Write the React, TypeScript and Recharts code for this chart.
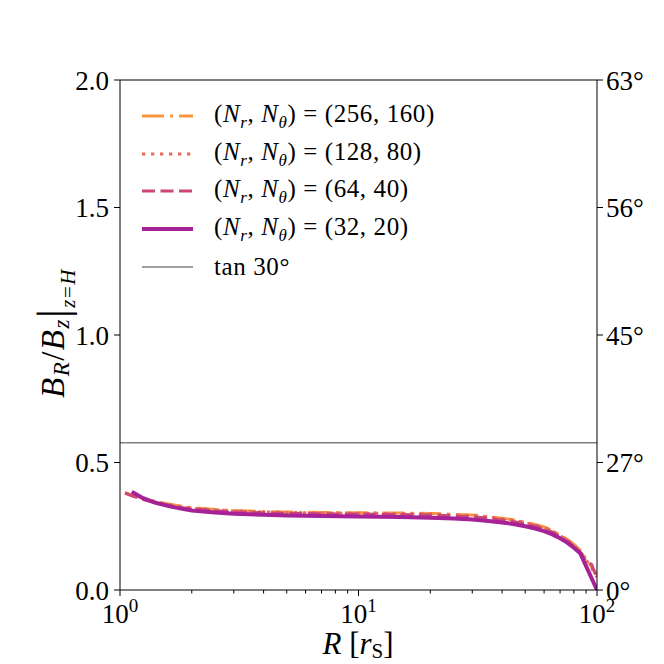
import React from "react";
import { LineChart, Line, XAxis, YAxis, ReferenceLine, Legend } from "recharts";

const FONT = "'Liberation Serif', 'DejaVu Serif', serif";

// ---- data ----
const rValues = [1.05, 1.12, 1.25, 1.4, 1.6, 1.8, 2.0, 2.5, 3, 4, 5, 7, 10, 15, 20, 25, 30, 35, 40, 45, 50, 55, 60, 65, 70, 75, 80, 85, 90, 95, 100];
const res256x160 = [0.382, 0.373, 0.36, 0.348, 0.337, 0.329, 0.323, 0.316, 0.312, 0.308, 0.306, 0.304, 0.303, 0.302, 0.3, 0.297, 0.294, 0.288, 0.281, 0.275, 0.266, 0.257, 0.247, 0.234, 0.215, 0.199, 0.179, 0.156, 0.122, 0.09, 0.06];
const res128x80 = [0.381, 0.371, 0.358, 0.346, 0.335, 0.327, 0.321, 0.314, 0.31, 0.306, 0.304, 0.302, 0.301, 0.3, 0.298, 0.295, 0.292, 0.286, 0.279, 0.273, 0.264, 0.255, 0.245, 0.232, 0.213, 0.197, 0.177, 0.153, 0.118, 0.085, 0.05];
const res64x40 = [0.38, 0.369, 0.355, 0.343, 0.332, 0.324, 0.318, 0.311, 0.307, 0.303, 0.301, 0.299, 0.298, 0.296, 0.294, 0.291, 0.287, 0.282, 0.275, 0.268, 0.26, 0.25, 0.24, 0.227, 0.209, 0.192, 0.172, 0.15, 0.111, 0.1, 0.045];
const res32x20 = [null, 0.385, 0.36, 0.343, 0.329, 0.319, 0.312, 0.304, 0.299, 0.295, 0.292, 0.29, 0.288, 0.286, 0.283, 0.28, 0.276, 0.271, 0.265, 0.258, 0.25, 0.241, 0.231, 0.218, 0.203, 0.186, 0.166, 0.144, null, null, 0.0];
const TAN30 = Math.tan(Math.PI / 6);

const xMajorTicks = [1, 10, 100];
const xMajorExponents = ["0", "1", "2"];
const xMinorTicks = [2, 3, 4, 5, 6, 7, 8, 9, 20, 30, 40, 50, 60, 70, 80, 90];
const yTicks = [0, 0.5, 1.0, 1.5, 2.0];
const yTickLabels = ["0.0", "0.5", "1.0", "1.5", "2.0"];
const angleTickLabels = ["0°", "27°", "45°", "56°", "63°"];

const rows = rValues.map((r, i) => ({
  r,
  s256: res256x160[i],
  s128: res128x80[i],
  s64: res64x40[i],
  s32: res32x20[i],
}));

// ---- styles ----
const seriesStyles = [
  { key: "s256", color: "#f89540", width: 3, dash: "22 6 3 6", nr: "256", nt: "160" },
  { key: "s128", color: "#e96a5b", width: 3, dash: "3.3 5.7", nr: "128", nt: "80" },
  { key: "s64", color: "#cc4778", width: 3, dash: "13 5.5", nr: "64", nt: "40" },
  { key: "s32", color: "#a62296", width: 4, dash: undefined as string | undefined, nr: "32", nt: "20" },
];

const XTick = (props: any) => {
  const { x, y, payload } = props;
  const v = payload.value;
  const mi = xMajorTicks.indexOf(v);
  const major = mi >= 0;
  return (
    <g>
      <line x1={x} x2={x} y1={y} y2={y + (major ? 6 : 3.5)} stroke="#000" strokeWidth={1} />
      {major && (
        <text x={x} y={y + 33} textAnchor="middle" fontFamily={FONT} fontSize={27} fill="#000">
          10
          <tspan dy={-11} fontSize={19}>{xMajorExponents[mi]}</tspan>
        </text>
      )}
    </g>
  );
};

const LegendBox = () => (
  <div style={{ fontFamily: FONT, fontSize: 25, color: "#000", lineHeight: 1 }}>
    {seriesStyles.map((s) => (
      <div key={s.key} style={{ display: "flex", alignItems: "center", height: 37.75 }}>
        <svg width={51} height={10} style={{ display: "block" }}>
          <line x1={0} x2={51} y1={5} y2={5} stroke={s.color} strokeWidth={s.width} strokeDasharray={s.dash} />
        </svg>
        <span style={{ marginLeft: 21, whiteSpace: "nowrap", letterSpacing: 0.6 }}>
          (<i>N</i><sub style={{ fontSize: 17 }}><i>r</i></sub>, <i>N</i>
          <sub style={{ fontSize: 17 }}><i>θ</i></sub>) = ({s.nr}, {s.nt})
        </span>
      </div>
    ))}
    <div style={{ display: "flex", alignItems: "center", height: 37.75 }}>
      <svg width={51} height={10} style={{ display: "block" }}>
        <line x1={0} x2={51} y1={5} y2={5} stroke="#808080" strokeWidth={1.5} />
      </svg>
      <span style={{ marginLeft: 21, whiteSpace: "nowrap", letterSpacing: 0.6 }}>tan 30°</span>
    </div>
  </div>
);

export default function App() {
  return (
    <div style={{ position: "absolute", left: 0, top: 0, width: 664, height: 664, background: "#fff" }}>
      <LineChart width={664} height={664} data={rows} margin={{ top: 80, right: 0, bottom: 0, left: 60 }}>
        <XAxis
          dataKey="r"
          type="number"
          scale="log"
          domain={[1, 100]}
          allowDataOverflow
          ticks={[...xMajorTicks, ...xMinorTicks]}
          interval={0}
          tickSize={0}
          tickMargin={0}
          tickLine={false}
          tick={<XTick />}
          height={74}
          stroke="#000"
        />
        <YAxis
          type="number"
          domain={[0, 2]}
          allowDataOverflow
          ticks={yTicks}
          interval={0}
          width={60}
          tickSize={6}
          tickMargin={5}
          tickFormatter={(_v: any, i: number) => yTickLabels[i]}
          tick={{ fill: "#000", fontSize: 27, fontFamily: FONT }}
          stroke="#000"
        />
        <YAxis
          yAxisId="right"
          orientation="right"
          type="number"
          domain={[0, 2]}
          allowDataOverflow
          ticks={yTicks}
          interval={0}
          width={67}
          tickSize={6}
          tickMargin={3}
          tickFormatter={(_v: any, i: number) => angleTickLabels[i]}
          tick={{ fill: "#000", fontSize: 27, fontFamily: FONT }}
          stroke="#000"
        />
        <ReferenceLine y={2} stroke="#000" strokeWidth={1} ifOverflow="visible" />
        <ReferenceLine yAxisId="right" y={TAN30} stroke="#808080" strokeWidth={1.5} />
        <Line
          yAxisId="right"
          type="linear"
          dataKey="s256"
          stroke="none"
          strokeWidth={0}
          dot={false}
          activeDot={false}
          legendType="none"
          isAnimationActive={false}
        />
        {seriesStyles.map((s) => (
          <Line
            key={s.key}
            type="linear"
            dataKey={s.key}
            stroke={s.color}
            strokeWidth={s.width}
            strokeDasharray={s.dash}
            dot={false}
            activeDot={false}
            connectNulls
            isAnimationActive={false}
          />
        ))}
        <Legend
          layout="vertical"
          align="center"
          verticalAlign="middle"
          content={<LegendBox />}
          wrapperStyle={{ left: 142, top: 97, width: "auto", height: "auto" }}
        />
      </LineChart>
      <svg width={664} height={664} style={{ position: "absolute", left: 0, top: 0, pointerEvents: "none" }}>
        <text x={64} y={333} transform="rotate(-90 64 333)" textAnchor="middle" fontFamily={FONT} fontSize={33} fill="#000" letterSpacing={1.5}>
          <tspan fontStyle="italic">B</tspan>
          <tspan fontSize={23} fontStyle="italic" dy={5}>R</tspan>
          <tspan dy={-5}>/</tspan>
          <tspan fontStyle="italic">B</tspan>
          <tspan fontSize={23} fontStyle="italic" dy={5}>z</tspan>
          <tspan dy={-1} fontSize={44}>|</tspan>
          <tspan fontSize={21} fontStyle="italic" dy={7}>z</tspan>
          <tspan fontSize={21}>=</tspan>
          <tspan fontSize={21} fontStyle="italic">H</tspan>
        </text>
        <text x={358} y={654} textAnchor="middle" fontFamily={FONT} fontSize={31} fill="#000">
          <tspan fontStyle="italic">R</tspan>
          <tspan> [</tspan>
          <tspan fontStyle="italic">r</tspan>
          <tspan fontSize={21} dy={4}>S</tspan>
          <tspan dy={-4}>]</tspan>
        </text>
      </svg>
    </div>
  );
}
